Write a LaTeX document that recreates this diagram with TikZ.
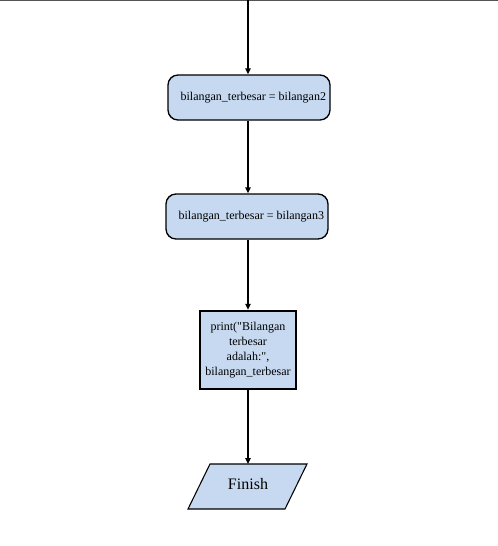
\documentclass[tikz,border=0pt]{standalone}
\usepackage{fontspec}
\setmainfont{Liberation Serif}
\newfontfamily\plainserif{Liberation Serif}[Ligatures=TeXOff]
\usetikzlibrary{arrows.meta}
\definecolor{boxfill}{RGB}{199,217,240}
\definecolor{topline}{RGB}{85,85,85}
\tikzset{
  flowbox/.style={draw=black, fill=boxfill, line width=1pt, rounded corners=7.5pt,
    minimum width=121.5pt, minimum height=33.75pt, inner sep=0pt, font=\fontsize{9}{11}\selectfont},
  printbox/.style={draw=black, fill=boxfill, line width=1.7pt,
    minimum width=72pt, minimum height=58.5pt, inner sep=0pt, align=center,
    font=\plainserif\fontsize{9}{11.25}\selectfont},
  flowarrow/.style={draw=black, line width=1.2pt, -{Triangle[width=4pt,length=4.5pt]}},
  iobox/.style={draw=black, fill=boxfill, line width=0.8pt},
}
\begin{document}
\begin{tikzpicture}[x=0.75pt,y=-0.75pt]
\useasboundingbox (0,0) rectangle (498,546);
\coordinate (tl) at (0,0.6);
\coordinate (tr) at (498,0.6);
\draw[topline, line width=1.2pt] (tl) -- (tr);
\coordinate (start) at (248,0);
\node[flowbox] (b1) at (249,97.5) {\hspace*{6.5pt}bilangan\_terbesar = bilangan2};
\node[flowbox] (b2) at (247,216.5) {\hspace*{6.5pt}bilangan\_terbesar = bilangan3};
\node[printbox] (b3) at (248,350) {print("Bilangan\\terbesar\\adalah:",\\bilangan\_terbesar};
\coordinate (p1) at (188,509);
\coordinate (p2) at (285,509);
\coordinate (p3) at (307,464);
\coordinate (p4) at (210,464);
\draw[iobox] (p1) -- (p2) -- (p3) -- (p4) -- cycle;
\node[font=\fontsize{12}{14}\selectfont, inner sep=0pt] (fin) at (248,484.5) {Finish};
\coordinate (fintop) at (248,464);
\draw[flowarrow] (start) -- (b1.north -| start);
\draw[flowarrow] (b1.south -| start) -- (b2.north -| start);
\draw[flowarrow] (b2.south -| start) -- (b3.north);
\draw[flowarrow] (b3.south) -- (fintop);
\end{tikzpicture}
\end{document}
